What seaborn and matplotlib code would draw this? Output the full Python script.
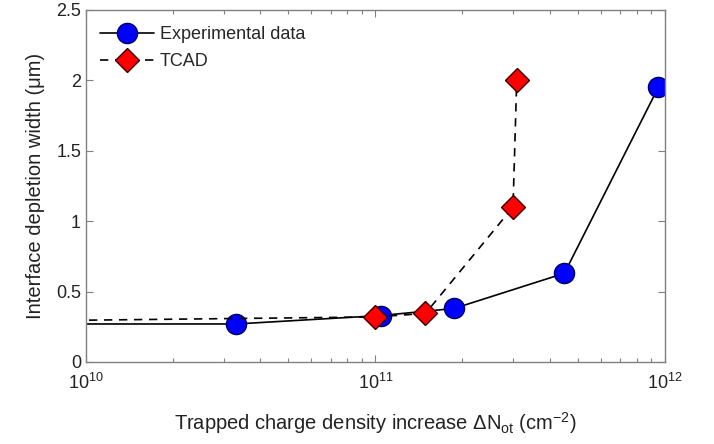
import matplotlib
matplotlib.use("Agg")
import matplotlib.pyplot as plt
import seaborn as sns
import numpy as np
import pandas as pd
from matplotlib.ticker import LogLocator, NullFormatter

exp_x = [5e9, 3.3e10, 1.045e11, 1.87e11, 4.5e11, 9.5e11]
exp_y = [0.27, 0.27, 0.33, 0.38, 0.63, 1.95]
tcad_x = [5e9, 1.0e11, 1.49e11, 2.99e11, 3.08e11]
tcad_y = [0.29, 0.32, 0.345, 1.10, 2.00]

sns.set_theme(style="white")
plt.rcParams['font.family'] = ['Liberation Sans', 'DejaVu Sans']
plt.rcParams['mathtext.fontset'] = 'custom'
plt.rcParams['mathtext.rm'] = 'Liberation Sans'
plt.rcParams['mathtext.it'] = 'Liberation Sans'

fig = plt.figure(figsize=(7.14, 4.44), dpi=100)
ax = fig.add_axes([0.1204, 0.1847, 0.8106, 0.7928])

df_exp = pd.DataFrame({"x": exp_x, "y": exp_y})
df_tcad = pd.DataFrame({"x": tcad_x, "y": tcad_y})

sns.lineplot(data=df_exp, x="x", y="y", ax=ax, color="black", lw=1.2, sort=False,
             marker="o", markersize=14.5, markerfacecolor="#0000ff",
             markeredgecolor="#000060", markeredgewidth=1.0, label="Experimental data")
sns.lineplot(data=df_tcad, x="x", y="y", ax=ax, color="black", lw=1.2, sort=False,
             linestyle=(0, (5, 4)),
             marker="D", markersize=12, markerfacecolor="#ff0000",
             markeredgecolor="#400000", markeredgewidth=1.0, label="TCAD")

ax.set_xscale("log")
ax.set_xlim(1e10, 1e12)
ax.set_ylim(0, 2.5)
ax.set_yticks([0, 0.5, 1, 1.5, 2, 2.5])
ax.set_yticklabels(["0", "0.5", "1", "1.5", "2", "2.5"])
ax.xaxis.set_major_locator(LogLocator(base=10, numticks=5))
ax.xaxis.set_minor_locator(LogLocator(base=10, subs=np.arange(2, 10), numticks=20))
ax.xaxis.set_minor_formatter(NullFormatter())

for s in ax.spines.values():
    s.set_color("#808080")
    s.set_linewidth(1.0)
ax.tick_params(which="both", direction="in", top=True, right=True, bottom=True, left=True,
               colors="#808080", labelcolor="#222222", labelsize=13)
ax.tick_params(which="major", length=5, width=0.8)
ax.tick_params(which="minor", length=3, width=0.8)
ax.tick_params(axis="x", which="both", pad=8)

ax.set_xlabel(r"Trapped charge density increase $\Delta$N$_{\rm ot}$ (cm$^{-2}$)", fontsize=14.5,
              color="#222222", labelpad=12)
ax.set_ylabel("Interface depletion width (μm)", fontsize=14.5, color="#222222", labelpad=8)

leg = ax.legend(loc="upper left", frameon=False, fontsize=13, handlelength=3.0,
                borderaxespad=0.0, handletextpad=0.3, labelspacing=0.55,
                bbox_to_anchor=(0.012, 0.975))

fig.savefig("out.png", dpi=100)
